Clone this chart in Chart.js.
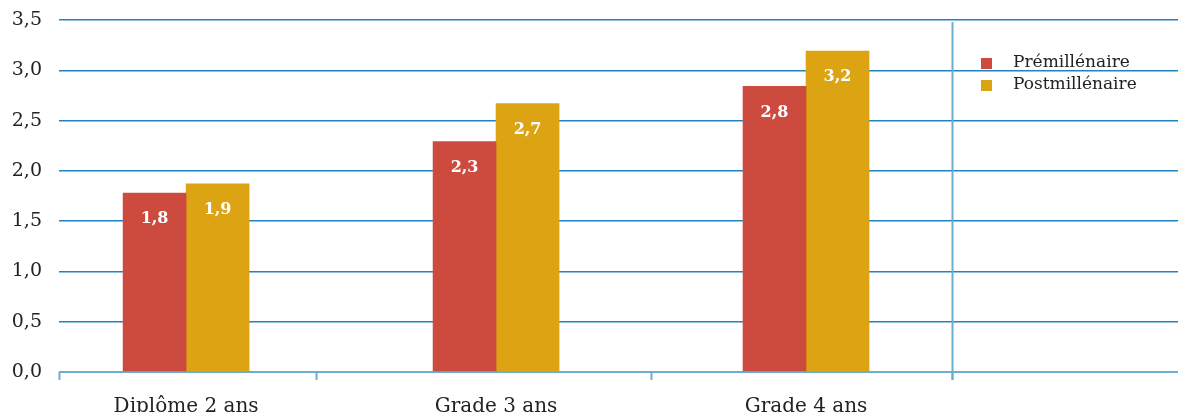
<!DOCTYPE html>
<html>
<head>
<meta charset="utf-8">
<script src="https://cdn.jsdelivr.net/npm/chart.js@4"></script>
<style>
  html, body { margin: 0; padding: 0; background: #fff; overflow: hidden; }
  #wrap { width: 1178px; height: 418px; position: relative; }
</style>
</head>
<body>
<div id="wrap"><canvas id="chart"></canvas></div>
<script>
// Chart data
const categories = ["Diplôme 2 ans", "Grade 3 ans", "Grade 4 ans"];
const seriesNames = ["Prémillénaire", "Postmillénaire"];
const premillenaire = [1.78, 2.29, 2.84];
const postmillenaire = [1.87, 2.67, 3.19];
const premillenaireLabels = [1.8, 2.3, 2.8];
const postmillenaireLabels = [1.9, 2.7, 3.2];
const yTicks = [0, 0.5, 1, 1.5, 2, 2.5, 3, 3.5];

const colors = ["#cc4b3e", "#dca313"];
const fontFamily = "'DejaVu Serif', serif";

// x positions where the little axis marks sit, and the divider line
const xMarks = [0.59, 1.42, 2.5, 3.47];
const dividerAt = 3.47;

function toPoints(values) {
    return values.map((v, i) => ({ x: i + 1, y: v }));
}

const valueLabels = [premillenaireLabels, postmillenaireLabels];

// Custom drawing: axis marks, divider, legend, value labels
const extras = {
    id: "extras",
    beforeDatasetsDraw(chart) {
        const ctx = chart.ctx;
        const x = chart.scales.x;
        const area = chart.chartArea;
        ctx.save();
        ctx.strokeStyle = "#6aaed2";
        ctx.lineWidth = 2;
        xMarks.forEach(v => {
            let px = Math.round(x.getPixelForValue(v)) + 0.5;
            ctx.beginPath();
            ctx.moveTo(px, area.bottom);
            ctx.lineTo(px, area.bottom + 8);
            ctx.stroke();
        });
        let dx = Math.round(x.getPixelForValue(dividerAt)) + 0.5;
        ctx.beginPath();
        ctx.moveTo(dx, area.top + 2);
        ctx.lineTo(dx, area.bottom + 8);
        ctx.stroke();
        ctx.restore();
    },
    afterDatasetsDraw(chart) {
        const ctx = chart.ctx;
        ctx.save();
        ctx.fillStyle = "#fff";
        ctx.font = "bold 16px " + fontFamily;
        ctx.textAlign = "center";
        ctx.textBaseline = "middle";
        chart.data.datasets.forEach((ds, di) => {
            chart.getDatasetMeta(di).data.forEach((bar, i) => {
                let txt = valueLabels[di][i].toFixed(1).replace(".", ",");
                ctx.fillText(txt, bar.x, bar.y + 26);
            });
        });

        // legend
        ctx.font = "17px " + fontFamily;
        ctx.textAlign = "left";
        chart.data.datasets.forEach((ds, di) => {
            let y = 58 + di * 22;
            ctx.fillStyle = ds.backgroundColor;
            ctx.fillRect(981, y, 11, 11);
            ctx.fillStyle = "#222";
            ctx.fillText(ds.label, 1013, y + 5);
        });
        ctx.restore();
    }
};

const ctx = document.getElementById("chart").getContext("2d");
new Chart(ctx, {
    type: "bar",
    data: {
        datasets: [
            { label: seriesNames[0], data: toPoints(premillenaire), backgroundColor: colors[0] },
            { label: seriesNames[1], data: toPoints(postmillenaire), backgroundColor: colors[1] }
        ]
    },
    options: {
        responsive: true,
        maintainAspectRatio: false,
        animation: false,
        barThickness: 63,
        layout: { padding: { top: 20, right: 0, left: 0, bottom: 0 } },
        plugins: {
            legend: { display: false },
            tooltip: { enabled: false }
        },
        scales: {
            x: {
                type: "linear",
                min: 0.59,
                max: 4.2,
                offset: false,
                grid: { display: false },
                border: { display: false },
                afterBuildTicks: s => { s.ticks = categories.map((c, i) => ({ value: i + 1 })); },
                afterFit: s => { s.height = 46; s.paddingLeft = 0; s.paddingRight = 0; },
                ticks: {
                    padding: 15,
                    color: "#222",
                    maxRotation: 0,
                    autoSkip: false,
                    font: { family: fontFamily, size: 20 },
                    callback: v => categories[v - 1] || ""
                }
            },
            y: {
                min: 0,
                max: 3.5,
                afterBuildTicks: s => { s.ticks = yTicks.map(v => ({ value: v })); },
                afterFit: s => { s.width = 59; s.paddingTop = 0; s.paddingBottom = 0; },
                grid: {
                    drawTicks: false,
                    color: c => c.tick.value === 0 ? "#6aaed2" : "#1f83c0",
                    lineWidth: c => c.tick.value === 0 ? 2 : 1.5
                },
                border: { display: false },
                ticks: {
                    padding: 17,
                    color: "#222",
                    font: { family: fontFamily, size: 19 },
                    callback: v => v.toFixed(1).replace(".", ",")
                }
            }
        }
    },
    plugins: [extras]
});
</script>
</body>
</html>
